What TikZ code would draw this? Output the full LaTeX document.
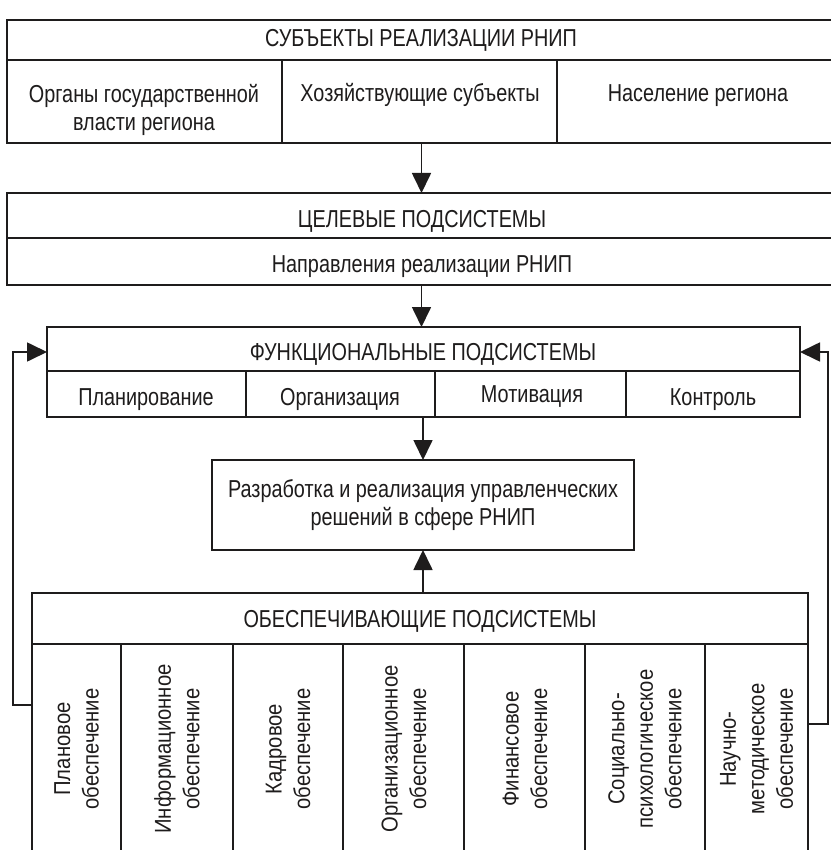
\documentclass[tikz,border=0pt]{standalone}
\usepackage{fontspec}
\newfontfamily\condfont[FakeStretch=0.81]{Liberation Sans}
\newfontfamily\vertfont[FakeStretch=0.88]{Liberation Sans}
\usetikzlibrary{arrows.meta}
\definecolor{ink}{RGB}{30,28,28}
\newcommand\hfnt{\condfont\fontsize{24.5pt}{28pt}\selectfont}
\newcommand\vfnt{\vertfont\fontsize{23pt}{28.5pt}\selectfont}
\begin{document}
\begin{tikzpicture}[x=1pt,y=-1pt,
 box/.style={draw=ink, line width=1.7pt, inner sep=0pt, outer sep=0pt, anchor=north west},
 sep/.style={draw=ink, line width=1.7pt},
 lbl/.style={font=\hfnt, text=ink, inner sep=0pt, anchor=base},
 mlbl/.style={font=\hfnt, text=ink, inner sep=0pt, align=center},
 vlbl/.style={font=\vfnt, text=ink, inner sep=0pt, align=center, rotate=90},
 arr/.style={draw=ink, line width=1.7pt, -{Triangle[width=19pt,length=20pt]}}]
\useasboundingbox (0,0) rectangle (830,850);
\fill[white] (0,0) rectangle (830,850);

% top box
\node[box, minimum width=829pt, minimum height=123pt] (subj) at (7,20) {};
\draw[sep] (7,60) -- (836,60);
\draw[sep] (282,60) -- (282,143);
\draw[sep] (557,60) -- (557,143);
\node[lbl] (subjt) at (421,47) {СУБЪЕКТЫ РЕАЛИЗАЦИИ РНИП};
\node[mlbl] (s1) at (144,110) {Органы государственной\\власти региона};
\node[lbl] (s2) at (420,102) {Хозяйствующие субъекты};
\node[lbl] (s3) at (698,102) {Население региона};

% goal box
\node[box, minimum width=829pt, minimum height=92pt] (goal) at (7,193) {};
\draw[sep] (7,238) -- (836,238);
\node[lbl] (goalt) at (422,227) {ЦЕЛЕВЫЕ ПОДСИСТЕМЫ};
\node[lbl] (goal2) at (422,272) {Направления реализации РНИП};

% functional box
\node[box, minimum width=753pt, minimum height=90pt] (func) at (47,327) {};
\draw[sep] (47,371) -- (800,371);
\draw[sep] (246,371) -- (246,417);
\draw[sep] (435,371) -- (435,417);
\draw[sep] (626,371) -- (626,417);
\node[lbl] (funct) at (423,360) {ФУНКЦИОНАЛЬНЫЕ ПОДСИСТЕМЫ};
\node[lbl] (f1) at (146,405) {Планирование};
\node[lbl] (f2) at (340,405) {Организация};
\node[lbl] (f3) at (532,402) {Мотивация};
\node[lbl] (f4) at (713,405) {Контроль};

% decision box
\node[box, minimum width=422pt, minimum height=90pt, font=\hfnt, text=ink, align=center] (dec) at (212,460)
  {Разработка и реализация управленческих\\решений в сфере РНИП};

% support box
\node[box, minimum width=776pt, minimum height=270pt] (supp) at (32,593) {};
\draw[sep] (32,644) -- (808,644);
\foreach \xx in {121,233,343,464,585,705} \draw[sep] (\xx,644) -- (\xx,870);
\node[lbl] (suppt) at (420,627) {ОБЕСПЕЧИВАЮЩИЕ ПОДСИСТЕМЫ};
\node[vlbl] (v1) at (76.5,749) {Плановое\\обеспечение};
\node[vlbl] (v2) at (177,749) {Информационное\\обеспечение};
\node[vlbl] (v3) at (288,749) {Кадровое\\обеспечение};
\node[vlbl] (v4) at (404,749) {Организационное\\обеспечение};
\node[vlbl] (v5) at (525,749) {Финансовое\\обеспечение};
\node[vlbl] (v6) at (645,749) {Социально-\\психологическое\\обеспечение};
\node[vlbl] (v7) at (756.5,749) {Научно-\\методическое\\обеспечение};

% connectors
\draw[arr] (subj.south) -- (goal.north);
\draw[arr] (goal.south) -- (goal.south |- func.north);
\draw[arr] (dec.north |- func.south) -- (dec.north);
\draw[arr] (dec.south |- supp.north) -- (dec.south);

\coordinate (L1) at (13,705);
\coordinate (L2) at (13,352);
\coordinate (R1) at (828,724);
\coordinate (R2) at (828,352);
\draw[arr] (L1 -| supp.west) -- (L1) -- (L2) -- (L2 -| func.west);
\draw[arr] (R1 -| supp.east) -- (R1) -- (R2) -- (R2 -| func.east);
\end{tikzpicture}
\end{document}
